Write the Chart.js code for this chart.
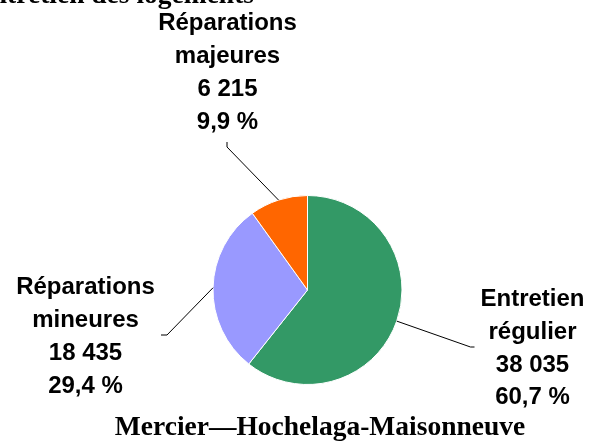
<!DOCTYPE html>
<html lang="fr">
<head>
    <meta charset="UTF-8">
    <title>Entretien des logements</title>
    <script src="https://cdn.jsdelivr.net/npm/chart.js"></script>
    <style>
        body {
            margin: 0;
            background-color: #fff;
        }

        #chartBox {
            width: 589px;
            height: 442px;
            position: relative;
        }
    </style>
</head>
<body>
    <div id="chartBox">
        <canvas id="pieChart"></canvas>
    </div>

    <script>
        // data
        const categories = [['Entretien', 'régulier'], ['Réparations', 'mineures'], ['Réparations', 'majeures']];
        const dwellings = [38035, 18435, 6215];
        const percentLabels = ['60,7 %', '29,4 %', '9,9 %'];
        const countLabels = ['38 035', '18 435', '6 215'];
        const sliceColors = ['#339966', '#9999FF', '#FF6600'];

        const topTitle = "État d'entretien des logements";
        const bottomTitle = 'Mercier\u2014Hochelaga-Maisonneuve';

        // where each label block sits, relative to the pie centre
        const labelSpots = [
            { dx: 225, dy: 58.5, lineDx: 163, lineDy: 57, tail: [4, 0] },
            { dx: -222, dy: 47, lineDx: -140.5, lineDy: 45, tail: [-6, 0] },
            { dx: -80, dy: -217, lineDx: -80.5, lineDy: -143, tail: [0, -5] }
        ];

        const labelPlugin = {
            id: 'sliceLabels',
            afterDatasetsDraw(chart) {
                const c = chart.ctx;
                const arcs = chart.getDatasetMeta(0).data;
                c.save();
                arcs.forEach((arc, i) => {
                    const mid = (arc.startAngle + arc.endAngle) / 2;
                    const ex = arc.x + Math.cos(mid) * arc.outerRadius;
                    const ey = arc.y + Math.sin(mid) * arc.outerRadius;
                    const spot = labelSpots[i];
                    const lx = arc.x + spot.lineDx;
                    const ly = arc.y + spot.lineDy;

                    // leader line
                    c.strokeStyle = '#000';
                    c.lineWidth = 1;
                    c.beginPath();
                    c.moveTo(ex, ey);
                    c.lineTo(lx, ly);
                    c.lineTo(lx + spot.tail[0], ly + spot.tail[1]);
                    c.stroke();

                    // text block
                    const lines = [...categories[i], countLabels[i], percentLabels[i]];
                    c.fillStyle = '#000';
                    c.font = 'bold 24px "Liberation Sans", Arial, sans-serif';
                    c.textAlign = 'center';
                    c.textBaseline = 'middle';
                    lines.forEach((t, k) => {
                        c.fillText(t, arc.x + spot.dx, arc.y + spot.dy + (k - 1.5) * 32.8);
                    });
                });

                // titles (the top one is cut by the frame, as in the source)
                c.font = 'bold 27.5px "Liberation Serif", "Times New Roman", serif';
                c.textBaseline = 'alphabetic';
                c.textAlign = 'right';
                c.fillText(topTitle, 254, 2.5);
                c.textAlign = 'center';
                c.fillText(bottomTitle, 320, 435);
                c.restore();
            }
        };

        const ctx = document.getElementById('pieChart').getContext('2d');
        const chart = new Chart(ctx, {
            type: 'pie',
            data: {
                labels: categories.map(l => l.join(' ')),
                datasets: [{
                    data: dwellings,
                    backgroundColor: sliceColors,
                    borderColor: '#fff',
                    borderWidth: 1
                }]
            },
            options: {
                responsive: true,
                maintainAspectRatio: false,
                animation: false,
                layout: {
                    padding: { left: 212, right: 186, top: 195, bottom: 57 }
                },
                plugins: {
                    legend: { display: false },
                    tooltip: { enabled: false },
                    title: { display: false }
                }
            },
            plugins: [labelPlugin]
        });
    </script>
</body>
</html>
